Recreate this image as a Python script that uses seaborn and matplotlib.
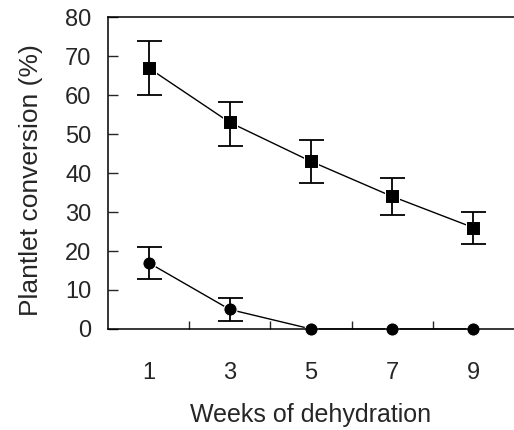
import matplotlib
matplotlib.use("Agg")
import matplotlib.pyplot as plt
import seaborn as sns
import pandas as pd
import numpy as np

weeks = [1, 3, 5, 7, 9]
square_vals = [67, 53, 43, 34, 26]
square_lo = [60, 47, 37.5, 29.3, 21.8]
square_hi = [73.8, 58.3, 48.5, 38.8, 30]
circle_vals = [17, 5, 0, 0, 0]
circle_lo = [12.9, 2, 0, 0, 0]
circle_hi = [21, 8, 0, 0, 0]

sns.set_style("ticks")
plt.rcParams['font.family'] = ['Liberation Sans', 'DejaVu Sans']

df = pd.DataFrame({
    "week": weeks * 2,
    "value": square_vals + circle_vals,
    "series": ["square"] * 5 + ["circle"] * 5,
})

fig = plt.figure(figsize=(5.14, 4.30), dpi=100)
ax = fig.add_axes([0.210, 0.235, 0.79, 0.725])

sns.lineplot(data=df, x="week", y="value", hue="series", style="series",
             markers={"square": "s", "circle": "o"}, dashes=False,
             palette={"square": "black", "circle": "black"},
             markersize=9.5, linewidth=1.0, legend=False, ax=ax, clip_on=False)

for vals, lo, hi in [(square_vals, square_lo, square_hi), (circle_vals, circle_lo, circle_hi)]:
    v = np.array(vals); l = np.array(lo); h = np.array(hi)
    mask = (h - l) > 0
    ax.errorbar(np.array(weeks)[mask], v[mask],
                yerr=[v[mask] - l[mask], h[mask] - v[mask]],
                fmt="none", ecolor="black", elinewidth=1.3, capsize=9, capthick=1.3)

ax.set_xlim(0, 10)
ax.set_ylim(0, 80)
ax.set_yticks(range(0, 90, 10))
ax.set_xticks([2, 4, 6, 8])
ax.set_xticklabels([])
ax.set_xticks(weeks, minor=True)
ax.set_xticklabels([str(w) for w in weeks], minor=True)
ax.tick_params(axis="x", which="major", direction="in", length=6, width=1)
ax.tick_params(axis="x", which="minor", length=0, pad=24, labelsize=17)
ax.tick_params(axis="y", direction="in", length=7, width=1, labelsize=17, pad=12)

for s in ["left", "bottom", "top"]:
    ax.spines[s].set_linewidth(1.1)
    ax.spines[s].set_color("black")
ax.spines["right"].set_visible(False)

ax.set_xlabel("Weeks of dehydration", fontsize=18)
ax.xaxis.set_label_coords(0.5, -0.238)
ax.set_ylabel("Plantlet conversion (%)", fontsize=19)
ax.yaxis.set_label_coords(-0.16, 0.478)

fig.savefig("out.png", dpi=100)
